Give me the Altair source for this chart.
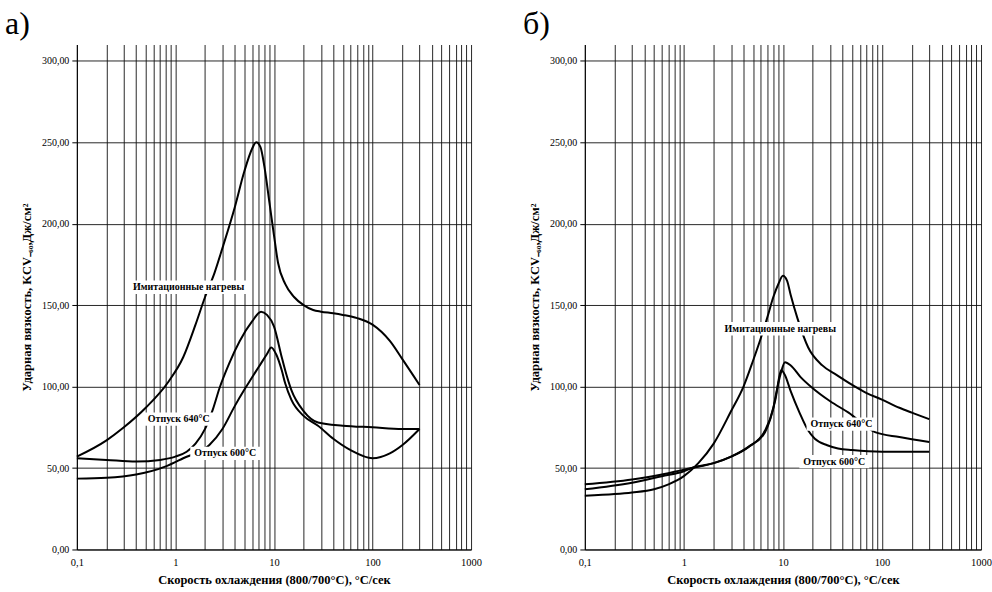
import altair as alt
import pandas as pd

# ---------------- data ----------------
# panel а)
a_imit_x = [0.1, 0.2, 0.3, 0.5, 0.85, 1.2, 1.6, 2, 2.5, 3, 4, 5, 6, 6.6, 7.3, 8, 9, 10, 11, 13, 16, 20, 25, 30, 40, 50, 70, 100, 150, 200, 300]
a_imit_y = [57, 67, 75, 87, 103, 118, 138, 155, 170, 185, 210, 232, 246, 250, 247, 235, 213, 193, 176, 163, 155, 150, 147, 146, 145, 144, 142, 138, 128, 117, 101]

a_640_x = [0.1, 0.2, 0.4, 0.7, 1, 1.3, 1.6, 2, 2.4, 2.8, 3.5, 4.5, 6, 7.4, 8.5, 10, 12, 13, 15, 20, 28, 50, 100, 200, 300]
a_640_y = [56, 55, 54, 55, 57, 60, 65, 74, 86, 99, 114, 128, 140, 146, 144, 137, 118, 110, 98, 85, 78, 76, 75, 74, 74]

a_600_x = [0.1, 0.2, 0.4, 0.8, 1.2, 2.2, 3, 4, 5, 5.9, 7, 8.5, 9.4, 10.5, 12, 13, 15, 20, 28, 40, 60, 100, 150, 200, 300]
a_600_y = [43.5, 44, 46, 51, 56, 64, 74, 88, 98, 105, 112, 120, 124, 120, 110, 102, 92, 82, 76, 68, 61, 56, 59, 64, 74]

# panel б)
b_imit_x = [0.1, 0.2, 0.3, 0.5, 0.7, 1, 1.4, 2, 3, 4, 5, 6, 7, 8, 9, 10, 11, 12, 14, 18, 25, 35, 50, 70, 100, 150, 200, 300]
b_imit_y = [33, 34, 35, 37, 40, 45, 53, 65, 85, 100, 116, 130, 143, 155, 163, 168, 165, 156, 142, 124, 113, 107, 101, 96, 92, 87, 84, 80]

b_640_x = [0.1, 0.3, 0.6, 1, 1.2, 2, 3, 4.5, 6.6, 8, 8.5, 9.5, 10.5, 12, 15, 20, 30, 46, 85, 150, 300]
b_640_y = [40, 43, 46, 49, 50, 53, 57, 63, 73, 87, 95, 108, 115, 113, 106, 99, 91, 84, 72, 69, 66]

b_600_x = [0.1, 0.3, 0.6, 1, 1.2, 2, 3, 4.5, 6.6, 8.4, 9.6, 10.5, 12, 14.7, 18, 21, 28, 36, 50, 100, 300]
b_600_y = [37, 41, 45, 48, 50, 53, 57, 63, 72, 92, 110, 107, 97, 84, 73, 68, 64, 62, 61, 60, 60]

# curve labels: text, x, y
a_labels = [("Имитационные нагревы", 1.36, 161), ("Отпуск 640°C", 1.08, 80), ("Отпуск 600°C", 3.2, 59)]
b_labels = [("Имитационные нагревы", 9.4, 135.5), ("Отпуск 640°C", 39, 77), ("Отпуск 600°C", 33, 54)]

# axis ticks
decades = [0.1, 1, 10, 100, 1000]
minor = [round(m * d, 6) for d in [0.1, 1, 10, 100] for m in range(1, 10)] + [1000]
y_ticks = [0, 50, 100, 150, 200, 250, 300]

x_title = "Скорость охлаждения (800/700°С), °С/сек"
y_title = "Ударная вязкость, KCV₋₆₀,Дж/см²"

SERIF = "Liberation Serif"


def panel(curves, labels, letter, dx, width):
    rows = []
    for name, xs, ys in curves:
        for i, (x, y) in enumerate(zip(xs, ys)):
            rows.append({"s": name, "x": x, "y": y, "i": i})
    df = pd.DataFrame(rows)
    xscale = alt.Scale(type="log", domain=[0.1, 1000], nice=False)
    yscale = alt.Scale(domain=[0, 310], nice=False)
    xaxis = alt.Axis(
        values=minor, grid=True, gridColor="#111", gridWidth=1, gridOpacity=0.9,
        ticks=False, domainColor="#000", domainWidth=1,
        labelExpr="datum.value==0.1?'0,1':(datum.value==1||datum.value==10||datum.value==100||datum.value==1000)?format(datum.value,'d'):''",
        labelFont=SERIF, labelFontSize=10.5, labelColor="#000", labelPadding=8,
        labelOverlap=False, labelFlush=False,
        title=x_title, titleFont=SERIF, titleFontSize=12.5, titleFontWeight="bold",
        titleColor="#000", titlePadding=6,
    )
    yaxis = alt.Axis(
        values=y_ticks, grid=True, gridColor="#111", gridWidth=1, gridOpacity=0.9,
        ticks=True, tickSize=5, tickColor="#000", domainColor="#000", domainWidth=1,
        labelExpr="replace(format(datum.value,'.2f'),'.',',')",
        labelFont=SERIF, labelFontSize=10, labelColor="#000", labelPadding=3,
        title=y_title, titleFont=SERIF, titleFontSize=12.5, titleFontWeight="bold",
        titleColor="#000", titlePadding=8,
    )
    lines = alt.Chart(df).mark_line(color="#000", strokeWidth=2, interpolate="monotone").encode(
        x=alt.X("x:Q", scale=xscale, axis=xaxis),
        y=alt.Y("y:Q", scale=yscale, axis=yaxis),
        detail="s:N",
        order="i:Q",
    )
    ldf = pd.DataFrame([{"t": t, "x": x, "y": y, "wide": len(t) > 15} for t, x, y in labels])
    wide_bg = alt.Chart(ldf[ldf.wide]).mark_point(
        shape="M-1,-0.11L1,-0.11L1,0.11L-1,0.11Z", size=122 * 122, filled=True,
        fill="#fff", stroke=None, opacity=1,
    ).encode(x=alt.X("x:Q", scale=xscale), y=alt.Y("y:Q", scale=yscale))
    narrow_bg = alt.Chart(ldf[~ldf.wide]).mark_point(
        shape="M-1,-0.19L1,-0.19L1,0.19L-1,0.19Z", size=70 * 70, filled=True,
        fill="#fff", stroke=None, opacity=1,
    ).encode(x=alt.X("x:Q", scale=xscale), y=alt.Y("y:Q", scale=yscale))
    texts = alt.Chart(ldf).mark_text(
        font=SERIF, fontSize=10, fontWeight="bold", color="#000", align="center", baseline="middle",
    ).encode(x=alt.X("x:Q", scale=xscale), y=alt.Y("y:Q", scale=yscale), text="t:N")
    return alt.layer(lines, wide_bg, narrow_bg, texts).properties(
        width=width, height=506,
        title=alt.TitleParams(letter, anchor="start", frame="group", dx=dx, font=SERIF, fontSize=32,
                              fontWeight="normal", color="#000", offset=4),
    )


left = panel([("imit", a_imit_x, a_imit_y), ("640", a_640_x, a_640_y), ("600", a_600_x, a_600_y)],
             a_labels, "а)", -72, 395)
right = panel([("imit", b_imit_x, b_imit_y), ("640", b_640_x, b_640_y), ("600", b_600_x, b_600_y)],
              b_labels, "б)", -62, 397)

chart = alt.hconcat(left, right, spacing=41).configure_view(stroke=None).properties(
    padding={"left": 5, "top": 7, "right": 0, "bottom": 0}, background="#fff"
)

chart.save("out.html", embed_options={"renderer": "svg", "actions": False})
